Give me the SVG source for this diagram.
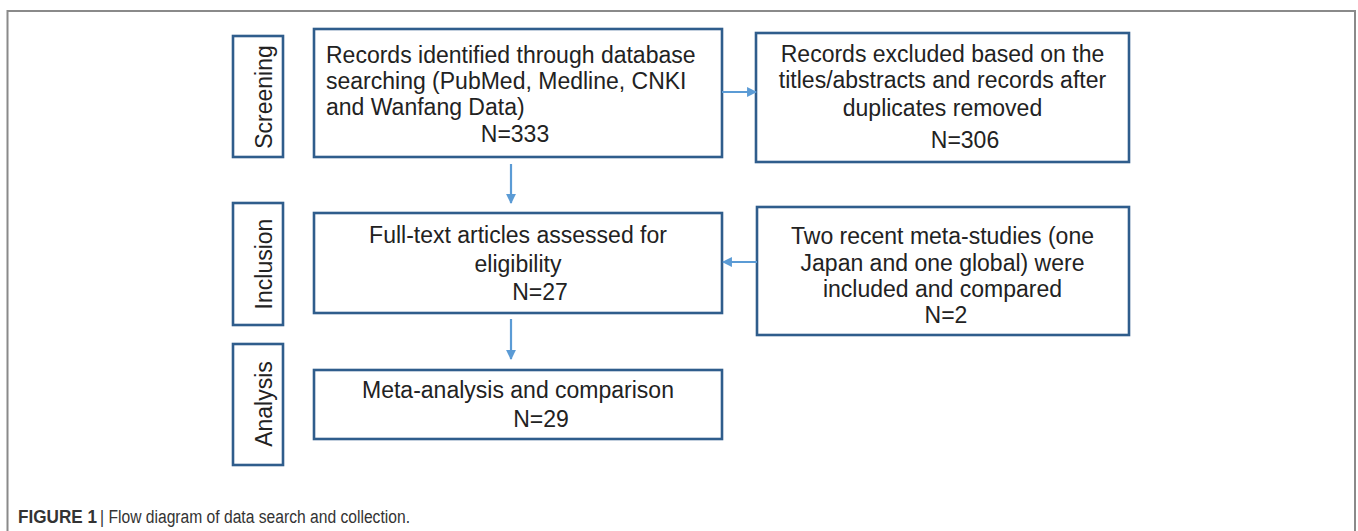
<svg xmlns="http://www.w3.org/2000/svg" width="1358" height="531" viewBox="0 0 1358 531">
<style>
.frame{fill:none;stroke:#8a8a8a;stroke-width:2}
.box{fill:#fff;stroke:#2f5d8c;stroke-width:2.6}
.t{font-family:"Liberation Sans",Arial,sans-serif;font-size:23px;fill:#222}
.c{text-anchor:middle}
.conn{stroke:#5b9bd5;stroke-width:2.2;fill:none}
.cap{font-family:"Liberation Sans",Arial,sans-serif;font-size:18px;fill:#333}
</style>
<defs>
<marker id="ah" viewBox="0 0 10 10" refX="9" refY="5" markerWidth="4.5" markerHeight="4.5" orient="auto" markerUnits="strokeWidth">
<path d="M0,0 L10,5 L0,10 z" fill="#5b9bd5"/>
</marker>
</defs>
<path class="frame" d="M7.5,531 V11 H1355 V531"/>
<g id="label-screening">
<rect class="box" x="233" y="36" width="50" height="121"/>
<text class="t c" transform="translate(272,97) rotate(-90)">Screening</text>
</g>
<g id="label-inclusion">
<rect class="box" x="233" y="203" width="50" height="122"/>
<text class="t c" transform="translate(272,264) rotate(-90)">Inclusion</text>
</g>
<g id="label-analysis">
<rect class="box" x="233" y="344" width="50" height="121"/>
<text class="t c" transform="translate(272,404) rotate(-90)">Analysis</text>
</g>
<g id="box-records">
<rect class="box" x="314" y="29" width="408" height="128"/>
<text class="t" x="326" y="63">Records identified through database</text>
<text class="t" x="326" y="89">searching (PubMed, Medline, CNKI</text>
<text class="t" x="326" y="115">and Wanfang Data)</text>
<text class="t c" x="515" y="142">N=333</text>
</g>
<g id="box-excluded">
<rect class="box" x="756" y="33" width="373" height="129"/>
<text class="t c" x="942.5" y="62">Records excluded based on the</text>
<text class="t c" x="942.5" y="88">titles/abstracts and records after</text>
<text class="t c" x="942.5" y="116">duplicates removed</text>
<text class="t c" x="965" y="148">N=306</text>
</g>
<g id="box-fulltext">
<rect class="box" x="314" y="213" width="408" height="100"/>
<text class="t c" x="518" y="243">Full-text articles assessed for</text>
<text class="t c" x="518" y="272">eligibility</text>
<text class="t c" x="540" y="300">N=27</text>
</g>
<g id="box-meta-studies">
<rect class="box" x="757" y="207" width="372" height="128"/>
<text class="t c" x="942.5" y="244">Two recent meta-studies (one</text>
<text class="t c" x="942.5" y="271">Japan and one global) were</text>
<text class="t c" x="942.5" y="297">included and compared</text>
<text class="t c" x="946" y="323">N=2</text>
</g>
<g id="box-analysis">
<rect class="box" x="314" y="370" width="408" height="69"/>
<text class="t c" x="518" y="398">Meta-analysis and comparison</text>
<text class="t c" x="541" y="427">N=29</text>
</g>
<g id="connectors">
<line class="conn" x1="511" y1="164" x2="511" y2="203" marker-end="url(#ah)"/>
<line class="conn" x1="511" y1="319" x2="511" y2="359" marker-end="url(#ah)"/>
<line class="conn" x1="722" y1="92" x2="756" y2="92" marker-end="url(#ah)"/>
<line class="conn" x1="757" y1="262" x2="723" y2="262" marker-end="url(#ah)"/>
</g>
<text class="cap" x="18" y="523" font-weight="bold" textLength="79" lengthAdjust="spacingAndGlyphs">FIGURE 1</text>
<text class="cap" x="100" y="523" textLength="310" lengthAdjust="spacingAndGlyphs">| Flow diagram of data search and collection.</text>
</svg>
